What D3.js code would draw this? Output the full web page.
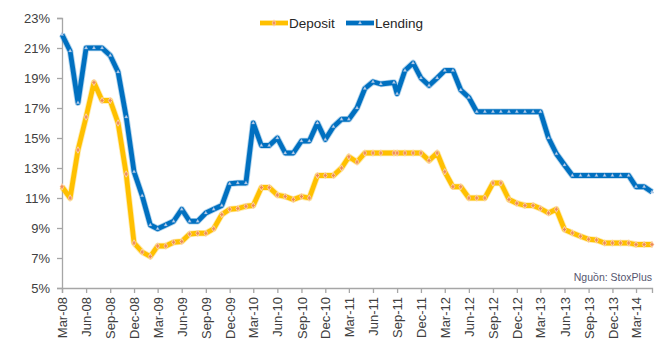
<!DOCTYPE html>
<html>
<head>
<meta charset="utf-8">
<script src="https://cdnjs.cloudflare.com/ajax/libs/d3/7.8.5/d3.min.js"></script>
<style>
  html, body { margin: 0; padding: 0; background: #fff; }
  svg { display: block; font-family: "Liberation Sans", Arial, sans-serif; }
</style>
</head>
<body>
<svg id="chart" width="670" height="350"></svg>
<script>
// ---- data ----
const dates = [
  "2008-03-01","2008-04-01","2008-05-01","2008-06-01","2008-07-01","2008-08-01","2008-09-01","2008-10-01","2008-11-01","2008-12-01",
  "2009-01-01","2009-02-01","2009-03-01","2009-04-01","2009-05-01","2009-06-01","2009-07-01","2009-08-01","2009-09-01","2009-10-01","2009-11-01","2009-12-01",
  "2010-01-01","2010-02-01","2010-03-01","2010-04-01","2010-05-01","2010-06-01","2010-07-01","2010-08-01","2010-09-01","2010-10-01","2010-11-01","2010-12-01",
  "2011-01-01","2011-02-01","2011-03-01","2011-04-01","2011-05-01","2011-06-01","2011-07-01","2011-08-20","2011-09-01","2011-10-01","2011-11-01","2011-12-01",
  "2012-01-01","2012-02-01","2012-03-01","2012-04-01","2012-05-01","2012-06-01","2012-07-01","2012-08-01","2012-09-01","2012-10-01","2012-11-01","2012-12-01",
  "2013-01-01","2013-02-01","2013-03-01","2013-04-01","2013-05-01","2013-06-01","2013-07-01","2013-08-01","2013-09-01","2013-10-01","2013-11-01","2013-12-01",
  "2014-01-01","2014-02-01","2014-03-01","2014-04-01","2014-05-01"
];
const deposit = [
  11.75, 11.0, 14.2, 16.4, 18.7, 17.5, 17.5, 16.0, 12.6, 8.0,
  7.4, 7.1, 7.8, 7.8, 8.05, 8.1, 8.6, 8.65, 8.65, 8.95, 9.9, 10.25,
  10.3, 10.45, 10.5, 11.7, 11.7, 11.2, 11.1, 10.9, 11.1, 11.0, 12.5, 12.5,
  12.5, 13.0, 13.75, 13.4, 14.0, 14.0, 14.0, 14.0, 14.0, 14.0, 14.0, 14.0,
  13.5, 14.0, 12.75, 11.75, 11.75, 11.0, 11.0, 11.0, 12.0, 12.0, 10.9, 10.65,
  10.5, 10.5, 10.3, 10.0, 10.25, 8.9, 8.67, 8.45, 8.25, 8.2, 8.0, 8.0,
  8.0, 8.0, 7.9, 7.9, 7.9
];
const lending = [
  21.9, 20.8, 17.35, 21.0, 21.0, 21.0, 20.5, 19.4, 16.4, 12.75,
  11.15, 9.2, 8.95, 9.2, 9.45, 10.25, 9.45, 9.45, 10.0, 10.25, 10.5, 11.95,
  12.0, 12.0, 16.0, 14.5, 14.5, 15.0, 14.0, 14.0, 14.8, 14.8, 16.0, 14.9,
  15.75, 16.25, 16.25, 17.0, 18.3, 18.75, 18.6, 18.7, 17.95, 19.5, 20.0, 19.0,
  18.5, 19.0, 19.5, 19.5, 18.2, 17.7, 16.75, 16.75, 16.75, 16.75, 16.75, 16.75,
  16.75, 16.75, 16.75, 15.0, 13.95, 13.2, 12.5, 12.5, 12.5, 12.5, 12.5, 12.5,
  12.5, 12.5, 11.75, 11.75, 11.4
];
const xTickLabels = ["Mar-08","Jun-08","Sep-08","Dec-08","Mar-09","Jun-09","Sep-09","Dec-09",
  "Mar-10","Jun-10","Sep-10","Dec-10","Mar-11","Jun-11","Sep-11","Dec-11",
  "Mar-12","Jun-12","Sep-12","Dec-12","Mar-13","Jun-13","Sep-13","Dec-13","Mar-14"];
const yTicks = [5, 7, 9, 11, 13, 15, 17, 19, 21, 23];
const seriesNames = ["Deposit", "Lending"];
const sourceText = "Nguồn: StoxPlus";

// ---- chart ----
(function () {
const svg = d3.select("#chart");
const parseDate = d3.timeParse("%Y-%m-%d");
const parseTick = d3.timeParse("%b-%y");
const dts = dates.map(parseDate);

const mLeft = 62, mRight = 652, mTop = 18, mBottom = 288;
const x = d3.scaleTime()
  .domain([parseDate("2008-03-01"), parseDate("2014-05-01")])
  .range([mLeft, mRight]);
const y = d3.scaleLinear().domain([5, 23]).range([mBottom, mTop]);

const axisColor = "#a6a6a6";
const textColor = "#404040";

// y axis
const yAxis = svg.append("g")
  .attr("transform", `translate(${mLeft},0)`)
  .call(d3.axisLeft(y).tickValues(yTicks).tickSize(5).tickPadding(7)
    .tickFormat(d => d + "%"));
yAxis.select(".domain").attr("stroke", axisColor).attr("stroke-width", 1.3);
yAxis.selectAll(".tick line").attr("stroke", axisColor).attr("stroke-width", 1.3);
yAxis.selectAll(".tick text").attr("fill", textColor).attr("font-size", "13px");

// x axis
const xAxis = svg.append("g")
  .attr("transform", `translate(0,${mBottom})`)
  .call(d3.axisBottom(x).tickValues(xTickLabels.map(parseTick)).tickSize(5)
    .tickFormat((d, i) => xTickLabels[i]));
xAxis.select(".domain").attr("stroke", axisColor).attr("stroke-width", 1.3);
xAxis.selectAll(".tick line").attr("stroke", axisColor).attr("stroke-width", 1.3);
xAxis.selectAll(".tick text")
  .attr("fill", textColor).attr("font-size", "13px")
  .attr("transform", "rotate(-90)")
  .attr("text-anchor", "end")
  .attr("x", -9).attr("y", 0).attr("dy", "0.35em");

const depColor = "#ffc000", lenColor = "#0070c0";

const line = vals => d3.line()
  .x((d, i) => x(dts[i]))
  .y(d => y(d))(vals);

function drawSeries(vals, color, markerFn) {
  const g = svg.append("g");
  g.append("path").attr("d", line(vals)).attr("fill", "none")
    .attr("stroke", color).attr("stroke-opacity", 0.3).attr("stroke-width", 6.5)
    .attr("stroke-linejoin", "round");
  g.append("path").attr("d", line(vals)).attr("fill", "none")
    .attr("stroke", color).attr("stroke-width", 4.8)
    .attr("stroke-linejoin", "round");
  vals.forEach((v, i) => markerFn(g, x(dts[i]), y(v)));
}

function depMarker(g, cx, cy) {
  g.append("path")
    .attr("d", d3.symbol().type(d3.symbolDiamond).size(12)())
    .attr("transform", `translate(${cx},${cy})`)
    .attr("fill", "#f5a878").attr("stroke", "#fcd4b4").attr("stroke-width", 0.8);
  g.append("path")
    .attr("d", d3.symbol().type(d3.symbolCross).size(5)())
    .attr("transform", `translate(${cx},${cy})`)
    .attr("fill", "#ee8a55");
}
function lenMarker(g, cx, cy) {
  g.append("path")
    .attr("d", d3.symbol().type(d3.symbolTriangle).size(5)())
    .attr("transform", `translate(${cx},${cy})`)
    .attr("fill", "#c6d8ee").attr("stroke", "#6fa0d4").attr("stroke-width", 0.4);
}

drawSeries(deposit, depColor, depMarker);
drawSeries(lending, lenColor, lenMarker);

// legend
const legend = svg.append("g");
const legendItems = [
  { name: seriesNames[0], color: depColor, marker: depMarker, x0: 260 },
  { name: seriesNames[1], color: lenColor, marker: lenMarker, x0: 346 }
];
legendItems.forEach(it => {
  legend.append("line").attr("x1", it.x0).attr("x2", it.x0 + 28)
    .attr("y1", 23).attr("y2", 23).attr("stroke", it.color).attr("stroke-width", 4.8);
  it.marker(legend, it.x0 + 14, 23);
  legend.append("text").attr("x", it.x0 + 29).attr("y", 28)
    .attr("fill", "#262626").attr("font-size", "13.5px").text(it.name);
});

// source
svg.append("text").attr("x", 652).attr("y", 281).attr("text-anchor", "end")
  .attr("fill", "#55556e").attr("font-size", "10.5px").text(sourceText);
})();
</script>
</body>
</html>
